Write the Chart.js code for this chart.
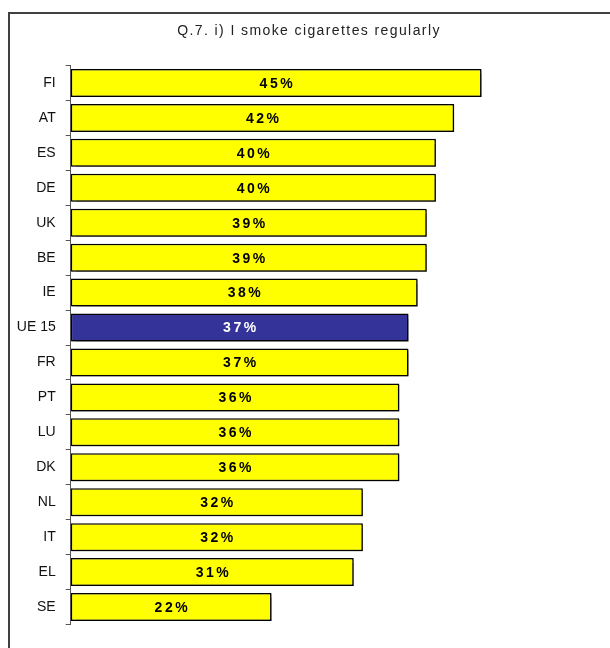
<!DOCTYPE html>
<html>
<head>
<meta charset="utf-8">
<script src="https://cdn.jsdelivr.net/npm/chart.js@4"></script>
<style>
  html, body { margin: 0; padding: 0; background: #fff; }
  #wrap { width: 610px; height: 648px; position: relative; }
</style>
</head>
<body>
<div id="wrap"><canvas id="c" width="610" height="648"></canvas></div>
<script>
const titleText = "Q.7. i) I smoke cigarettes regularly";
const categories = ["FI", "AT", "ES", "DE", "UK", "BE", "IE", "UE 15", "FR", "PT", "LU", "DK", "NL", "IT", "EL", "SE"];
const values = [45, 42, 40, 40, 39, 39, 38, 37, 37, 36, 36, 36, 32, 32, 31, 22];
const highlight = "UE 15";

const yellow = "#FFFF00";
const blue = "#333399";

const framePlugin = {
  id: "frame",
  beforeDraw(chart) {
    const ctx = chart.ctx;
    ctx.save();
    ctx.fillStyle = "#fff";
    ctx.fillRect(0, 0, chart.width, chart.height);
    ctx.strokeStyle = "#404040";
    ctx.lineWidth = 2;
    ctx.strokeRect(9, 13, 700, 700);
    ctx.fillStyle = "#222";
    ctx.font = "14px 'Liberation Sans', Arial, sans-serif";
    ctx.letterSpacing = "1.4px";
    ctx.textAlign = "center";
    ctx.textBaseline = "middle";
    ctx.fillText(titleText, 309, 31);
    ctx.restore();
  },
  beforeDatasetsDraw(chart) {
    const ctx = chart.ctx;
    ctx.save();
    ctx.shadowColor = "rgba(0,0,0,0.45)";
    ctx.shadowOffsetX = 1.5;
    ctx.shadowOffsetY = 1.5;
    ctx.shadowBlur = 1;
  },
  afterDatasetsDraw(chart) {
    const ctx = chart.ctx;
    ctx.restore();
    ctx.save();
    const meta = chart.getDatasetMeta(0);
    ctx.font = "bold 14px 'Liberation Sans', Arial, sans-serif";
    ctx.letterSpacing = "2.5px";
    ctx.textAlign = "center";
    ctx.textBaseline = "middle";
    meta.data.forEach((bar, i) => {
      const x0 = bar.base, x1 = bar.x;
      ctx.fillStyle = categories[i] === highlight ? "#ffffff" : "#000000";
      ctx.fillText(values[i] + "%", (x0 + x1) / 2 + 1.25, bar.y + 1);
    });
    ctx.restore();
  }
};

new Chart(document.getElementById("c"), {
  type: "bar",
  data: {
    labels: categories,
    datasets: [{
      data: values,
      backgroundColor: categories.map(c => c === highlight ? blue : yellow),
      borderColor: "#000",
      borderWidth: 1.5,
      borderSkipped: false,
      categoryPercentage: 0.8,
      barPercentage: 1.0
    }]
  },
  options: {
    indexAxis: "y",
    responsive: false,
    animation: false,
    devicePixelRatio: 1,
    layout: { padding: { top: 65.5, bottom: 23.5, left: 0, right: 82.8 } },
    plugins: { legend: { display: false }, title: { display: false }, tooltip: { enabled: false } },
    scales: {
      x: { display: false, min: 0, max: 50 },
      y: {
        afterFit(scale) { scale.width = 70.7; },
        border: { display: true, color: "#555", width: 1 },
        grid: { display: true, drawOnChartArea: false, drawTicks: true, tickLength: 5, color: "#555", offset: true },
        ticks: { color: "#111", padding: 10, font: { family: "'Liberation Sans', Arial, sans-serif", size: 14 } }
      }
    }
  },
  plugins: [framePlugin]
});
</script>
</body>
</html>
